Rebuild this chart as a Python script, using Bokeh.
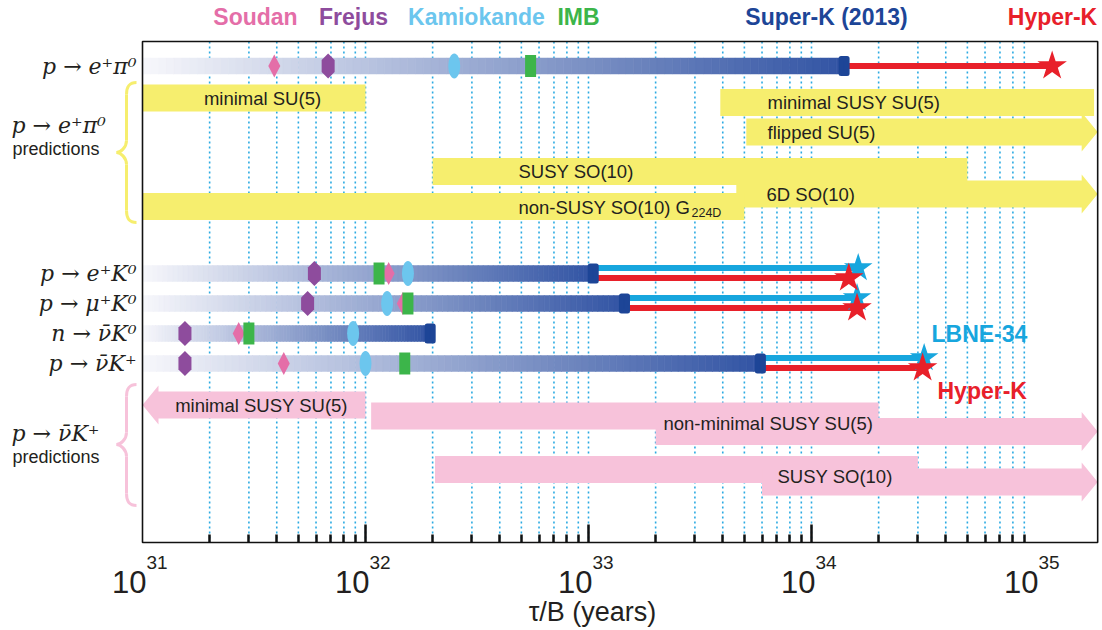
import numpy as np
from bokeh.plotting import figure
from bokeh.models import Range1d, FixedTicker, CustomJSTickFormatter
from bokeh.core.properties import value
from bokeh.embed import file_html
from bokeh.resources import INLINE

NAN = float("nan")
INF = float("inf")

# ---------------- data (lifetime / branching ratio, years) ----------------
modes = ["p → e⁺π⁰", "p → e⁺K⁰", "p → μ⁺K⁰", "n → ν̄K⁰", "p → ν̄K⁺"]
soudan = [3.9e31, 1.27e32, 1.47e32, 2.7e31, 4.3e31]
frejus = [6.8e31, 5.9e31, 5.5e31, 1.55e31, 1.55e31]
kamiokande = [2.5e32, 1.55e32, 1.25e32, 8.8e31, 1.0e32]
imb = [5.5e32, 1.15e32, 1.55e32, 3.0e31, 1.5e32]
superk_2013 = [1.4e34, 1.05e33, 1.45e33, 1.95e32, 5.9e33]
hyperk = [1.2e35, 1.47e34, 1.6e34, NAN, 3.15e34]
lbne34 = [NAN, 1.62e34, 1.6e34, NAN, 3.2e34]

experiments = ["Soudan", "Frejus", "Kamiokande", "IMB", "Super-K (2013)", "Hyper-K"]

epi_models = ["minimal SU(5)", "minimal SUSY SU(5)", "flipped SU(5)",
              "SUSY SO(10)", "6D SO(10)", "non-SUSY SO(10) G"]
epi_sub = ["", "", "", "", "", "224D"]
epi_low = [1.0e31, 3.9e33, 5.1e33, 2.0e32, 4.6e33, 1.0e31]
epi_high = [1.0e32, 1.85e35, INF, 5.0e34, INF, 5.0e33]

nuk_models = ["minimal SUSY SU(5)", "non-minimal SUSY SU(5)", "non-minimal SUSY SU(5)",
              "SUSY SO(10)", "SUSY SO(10)"]
nuk_low = [0.0, 1.06e32, 2.0e33, 2.05e32, 6.0e33]
nuk_high = [1.0e32, 2.0e34, INF, 3.0e34, INF]

tick_exp = [31, 32, 33, 34, 35]

# ---------------- layout / style ----------------
W, H = 1102, 630
X0_PX, DEC_PX = 142.0, 223.0
XMIN, XMAX = 1e31, 1.92e35
Y_TOP, Y_BOT = 41, 542
ROW_Y = [65.5, 273, 303, 333, 363]
EPI_Y = [97.5, 102, 131.5, 171, 193.5, 206]
NUK_Y = [404.5, 415.5, 431, 469, 481.5]
BAR_H, HEAD_H, HEAD_L = 27, 39, 16

C_SOUDAN, C_FREJUS, C_KAMIOKA, C_IMB = "#E46EA8", "#8E4C9D", "#6CC6EE", "#3CB54A"
C_SK, C_HK, C_LBNE = "#1D4597", "#E8202A", "#17A6DE"
C_YEL, C_PINK, C_GRID, C_TXT = "#F6EE6E", "#F7C2DA", "#2AAAE2", "#231F20"
SANS, SERIF = "Liberation Sans", "DejaVu Serif"
NARROW = "Liberation Sans Narrow, Liberation Sans"


def px2x(X):
    return 10 ** (31 + (X - X0_PX) / DEC_PX)


def shift(x, d):
    return x * 10 ** (d / DEC_PX)


p = figure(width=W, height=H, x_axis_type="log",
           x_range=Range1d(px2x(0), px2x(W)),
           y_range=Range1d(H, 0),
           y_axis_location=None, toolbar_location=None, output_backend="svg",
           min_border=0, outline_line_color=None,
           background_fill_color="white", border_fill_color="white")
p.grid.visible = False

# dotted grid at every 1..9 x 10^n inside the box
grid_x = [m * 10.0 ** e for e in tick_exp[:-1] for m in range(1, 10)][1:]
p.segment(x0=grid_x, y0=Y_TOP, x1=grid_x, y1=Y_BOT, line_color=C_GRID,
          line_width=1.6, line_dash="2 3")


# ---------------- prediction bars ----------------
def bar_poly(lo, hi, y):
    t, b = y - BAR_H / 2, y + BAR_H / 2
    ht, hb = y - HEAD_H / 2, y + HEAD_H / 2
    xs, ys = [], []
    if lo < XMIN:
        xl = shift(XMIN, HEAD_L)
        xs += [XMIN, xl, xl]; ys += [y, ht, t]
    else:
        xs += [lo]; ys += [t]
    if hi > XMAX:
        xr = shift(XMAX, -HEAD_L)
        xs += [xr, xr, XMAX, xr, xr]; ys += [t, ht, y, hb, b]
    else:
        xs += [hi, hi]; ys += [t, b]
    if lo < XMIN:
        xs += [xl, xl]; ys += [b, hb]
    else:
        xs += [lo]; ys += [b]
    return xs, ys


for lows, highs, ys_, col in [(epi_low, epi_high, EPI_Y, C_YEL), (nuk_low, nuk_high, NUK_Y, C_PINK)]:
    polys = [bar_poly(lo, hi, y) for lo, hi, y in zip(lows, highs, ys_)]
    p.patches(xs=[a for a, _ in polys], ys=[b for _, b in polys],
              fill_color=col, line_color=None)

# bar labels
txt = dict(text_font=value(SANS), text_font_size="18.5px", text_color=C_TXT,
           text_baseline="middle")
p.text(x=[px2x(262)], y=[98], text=[epi_models[0]], text_align="center", **txt)
p.text(x=[px2x(v) for v in (767, 767, 518, 766, 518)], y=[102, 132, 171, 194, 207],
       text=epi_models[1:], text_align="left", **txt)
p.text(x=[px2x(691)], y=[212], text=[epi_sub[5]], text_align="left",
       text_font=value(SANS), text_font_size="12.5px", text_color=C_TXT,
       text_baseline="middle")
p.text(x=[px2x(261)], y=[405], text=[nuk_models[0]], text_align="center", **txt)
p.text(x=[px2x(663), px2x(777)], y=[423, 476], text=[nuk_models[1], nuk_models[3]],
       text_align="left", **txt)

# ---------------- measured limits (gradient bars) ----------------
c0 = np.array([248, 248, 252]); c1 = np.array([50, 84, 164])
N = 90
for y, sk in zip(ROW_Y, superk_2013):
    edges = np.logspace(np.log10(XMIN), np.log10(sk), N + 1)
    fr = (np.arange(N) + 0.5) / N
    cols = ["#%02x%02x%02x" % tuple(int(v) for v in (c0 + (c1 - c0) * f)) for f in fr]
    p.quad(left=edges[:-1], right=edges[1:] * 1.002, top=y - 8, bottom=y + 8,
           fill_color=cols, line_color=cols, line_width=0.5)

# future sensitivities
lb_rows = [i for i, v in enumerate(lbne34) if not np.isnan(v)]
hk_rows = [i for i, v in enumerate(hyperk) if not np.isnan(v)]
lb_y = [ROW_Y[i] - 5.5 for i in lb_rows]
hk_y = [ROW_Y[i] + (4.5 if i in lb_rows else 0) for i in hk_rows]
p.segment(x0=[superk_2013[i] for i in lb_rows], y0=lb_y, x1=[lbne34[i] for i in lb_rows],
          y1=lb_y, line_color=C_LBNE, line_width=6)
p.segment(x0=[superk_2013[i] for i in hk_rows], y0=hk_y, x1=[hyperk[i] for i in hk_rows],
          y1=hk_y, line_color=C_HK, line_width=6)

# Super-K end caps
p.rect(x=superk_2013, y=ROW_Y, width=6, height=15, width_units="screen",
       height_units="screen", fill_color=C_SK, line_color=C_SK, line_width=5,
       line_join="round")


# experiment markers
def diamond(x, y, w=12, h=23):
    return [shift(x, -w / 2), x, shift(x, w / 2), x], [y, y - h / 2, y, y + h / 2]


def hexa(x, y, w=13, h=25, s=6):
    return ([x, shift(x, w / 2), shift(x, w / 2), x, shift(x, -w / 2), shift(x, -w / 2)],
            [y - h / 2, y - s, y + s, y + h / 2, y + s, y - s])


fj = [hexa(x, y) for x, y in zip(frejus, ROW_Y)]
p.patches(xs=[a for a, _ in fj], ys=[b for _, b in fj], fill_color=C_FREJUS, line_color=None)
sd = [diamond(x, y) for x, y in zip(soudan, ROW_Y)]
p.patches(xs=[a for a, _ in sd], ys=[b for _, b in sd], fill_color=C_SOUDAN, line_color=None)
p.ellipse(x=kamiokande, y=ROW_Y, width=12, height=25, width_units="screen",
          height_units="screen", fill_color=C_KAMIOKA, line_color=None)
p.rect(x=imb, y=ROW_Y, width=11, height=22, width_units="screen",
       height_units="screen", fill_color=C_IMB, line_color=None)

p.scatter(x=[lbne34[i] for i in lb_rows], y=lb_y, marker="star", size=30,
          fill_color=C_LBNE, line_color=None)
p.scatter(x=[hyperk[i] for i in hk_rows], y=hk_y, marker="star", size=31,
          fill_color=C_HK, line_color=None)

# ---------------- box and axis ----------------
p.quad(left=[XMIN], right=[XMAX], top=[Y_TOP], bottom=[Y_BOT], fill_color=None,
       line_color="#111111", line_width=1.6)

ax = p.xaxis[0]
ax.fixed_location = Y_BOT
ax.ticker = FixedTicker(ticks=[10.0 ** e for e in tick_exp[1:-1]],
                        minor_ticks=[m * 10.0 ** e for e in tick_exp[:-1] for m in range(2, 10)])
ax.formatter = CustomJSTickFormatter(code="return ''")
ax.axis_line_color = None
ax.major_tick_in, ax.major_tick_out = 18, 0
ax.minor_tick_in, ax.minor_tick_out = 8, 0
ax.major_tick_line_width = 2.5
ax.minor_tick_line_width = 2.5
ax.major_tick_line_color = "#111111"
ax.minor_tick_line_color = "#111111"

tick_vals = [10.0 ** e for e in tick_exp]
p.text(x=tick_vals, y=581, text=["10"] * len(tick_exp), text_align="right", x_offset=4,
       text_baseline="middle", text_font=value(NARROW), text_font_size="31px",
       text_color=C_TXT)
p.text(x=tick_vals, y=562, text=[str(e) for e in tick_exp], text_align="left", x_offset=4,
       text_baseline="middle", text_font=value(NARROW), text_font_size="19px",
       text_color=C_TXT)
p.text(x=[px2x(592)], y=[611], text=["τ/B (years)"], text_align="center",
       text_baseline="middle", text_font=value(SANS), text_font_size="27px",
       text_color=C_TXT)

# ---------------- left labels and braces ----------------
p.text(x=[XMIN] * len(modes), y=ROW_Y, text=modes, text_align="right", x_offset=-6,
       text_baseline="middle", text_font=value(SERIF), text_font_style="italic",
       text_font_size="22px", text_color=C_TXT)
p.text(x=[px2x(11)] * 2, y=[125, 433], text=[modes[0], modes[4]], text_align="left",
       text_baseline="middle", text_font=value(SERIF), text_font_style="italic",
       text_font_size="22px", text_color=C_TXT)
p.text(x=[px2x(12)] * 2, y=[148, 456], text=["predictions"] * 2, text_align="left",
       text_baseline="middle", text_font=value(SANS), text_font_size="18px",
       text_color=C_TXT)


def brace(yt, yb, ytip, col):
    xr, xm, xl = px2x(136), px2x(126), px2x(116)
    xc = px2x(128); xq = px2x(120)
    p.bezier(x0=[xr, xm, xl, xm], y0=[yt, ytip - 12, ytip, yb - 12],
             x1=[xm, xl, xm, xr], y1=[yt + 12, ytip, ytip + 12, yb],
             cx0=[xc, xm, xq, xm], cy0=[yt, ytip - 5, ytip, yb - 5],
             cx1=[xm, xq, xm, xc], cy1=[yt + 5, ytip, ytip + 5, yb],
             line_color=col, line_width=3)
    p.segment(x0=[xm, xm], y0=[yt + 12, ytip + 12], x1=[xm, xm], y1=[ytip - 12, yb - 12],
              line_color=col, line_width=3)


brace(82, 222, 152, C_YEL)
brace(384, 505, 444, C_PINK)

# ---------------- experiment legend labels ----------------
bold = dict(text_font=value(SANS), text_font_style="bold", text_font_size="23px",
            text_baseline="middle", text_align="center")
p.text(x=[px2x(v) for v in (255, 353, 476, 578, 826, 1052)], y=16, text=experiments,
       text_color=[C_SOUDAN, C_FREJUS, C_KAMIOKA, C_IMB, C_SK, C_HK], **bold)
bold["text_align"] = "left"
p.text(x=[px2x(931)], y=[333], text=["LBNE-34"], text_color=C_LBNE, **bold)
p.text(x=[px2x(937)], y=[390], text=["Hyper-K"], text_color=C_HK, **bold)

open("out.html", "w").write(file_html(p, INLINE))
